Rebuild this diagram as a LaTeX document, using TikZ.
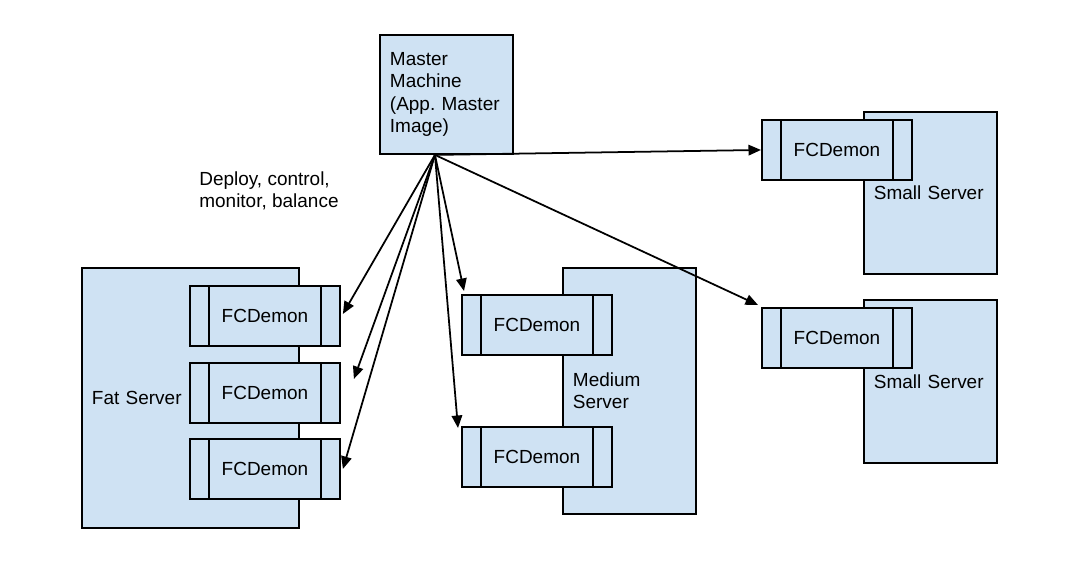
\documentclass[tikz,border=0pt]{standalone}
\usepackage{fontspec}
\setmainfont{Liberation Sans}
\usetikzlibrary{arrows.meta,calc}

\definecolor{boxblue}{HTML}{CFE2F3}

\tikzset{
  box/.style={draw, fill=boxblue, line width=1.1pt, anchor=north west,
    inner xsep=0.2cm, inner ysep=0pt, align=left,
    font=\fontsize{10.8}{12.7}\selectfont},
  server/.style={box, text width=#1},
  bars/.style={line width=1.1pt},
  demon/.style={box, minimum width=3cm, minimum height=1.2cm, inner xsep=0pt,
    align=center,
    path picture={
      \draw[bars] ([xshift=0.38cm]path picture bounding box.north west)
        -- ([xshift=0.38cm]path picture bounding box.south west);
      \draw[bars] ([xshift=-0.38cm]path picture bounding box.north east)
        -- ([xshift=-0.38cm]path picture bounding box.south east);
    }},
  link/.style={-{Triangle[length=0.25cm,width=0.21cm]}, line width=1pt}
}

\begin{document}
\begin{tikzpicture}[x=0.02cm,y=-0.02cm]
\useasboundingbox (0,0) rectangle (1086,570);

% servers
\node[server=3.94cm, minimum height=5.2cm] (fat) at (81,267) {Fat Server};
\node[server=2.26cm, minimum height=4.92cm] (medium) at (562,267) {Medium\\Server};
\node[server=2.26cm, minimum height=3.24cm] (smallA) at (863,111) {Small Server};
\node[server=2.26cm, minimum height=3.26cm] (smallB) at (863,299) {Small Server};

% demons
\node[demon] (fatA) at (189,285) {FCDemon};
\node[demon] (fatB) at (189,362) {FCDemon};
\node[demon] (fatC) at (189,438) {FCDemon};
\node[demon] (medA) at (461,294) {FCDemon};
\node[demon] (medB) at (461,426) {FCDemon};
\node[demon] (smlA) at (761,119) {FCDemon};
\node[demon] (smlB) at (761,307) {FCDemon};

% master
\node[server=2.26cm, minimum height=2.38cm] (master) at (379,34)
  {Master\\Machine\\(App.\ Master\\Image)};

\node[anchor=west, align=left, inner sep=0pt,
  font=\fontsize{10.8}{12.7}\selectfont] (task) at (199,191)
  {Deploy, control,\\monitor, balance};

\coordinate (hub) at ($(master.south)+(-11.5,0)$);
\coordinate (gap) at ($(fatB.east)+(13,-14)$);

\draw[link] (hub) -- (smlA.west);
\draw[link] (hub) -- ($(smlB.north west)+(-3,-2)$);
\draw[link] (hub) -- ($(medA.north west)+(3,-3)$);
\draw[link] (hub) -- ($(medB.north west)+(-3,2)$);
\draw[link] (hub) -- ($(fatA.east)+(2,-2)$);
\draw[link] (hub) -- (gap);
\draw[link] (hub) -- ($(fatC.east)+(2,0)$);

\end{tikzpicture}
\end{document}
